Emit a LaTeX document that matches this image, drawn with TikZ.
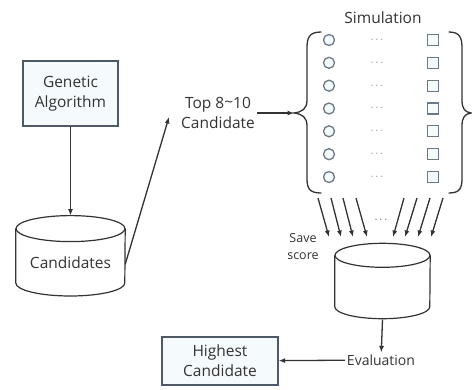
\documentclass[tikz,border=0pt]{standalone}
\usepackage{fontspec}
\setmainfont{Open Sans}
\usepackage{tikz}
\usetikzlibrary{arrows.meta}
\usetikzlibrary{positioning}
\definecolor{boxedge}{HTML}{4E5A66}
\definecolor{boxfill}{HTML}{F5FAFD}
\definecolor{inkgray}{HTML}{333333}
\definecolor{simedge}{HTML}{6C7884}
\tikzset{>={Latex[length=6.5pt,width=5pt]}}
\tikzset{flow-line/.style={line width=1.3pt, draw=inkgray}}
\tikzset{flow-text/.style={text=inkgray, align=center, inner sep=2pt, font=\fontsize{15.5}{20}\selectfont}}
\tikzset{flow-box/.style={flow-text, draw=boxedge, line width=1.2pt, fill=boxfill, minimum width=95pt, minimum height=65pt, inner sep=0}}
\tikzset{flow-db/.style={flow-text, inner sep=0}}
\tikzset{db-line/.style={line width=1.2pt, draw=inkgray}}
\tikzset{sim-circle/.style={draw=simedge, line width=1.3pt, fill=boxfill, circle, minimum size=11pt, inner sep=0}}
\tikzset{sim-square/.style={draw=simedge, line width=1.3pt, fill=boxfill, minimum size=11pt, inner sep=0}}
\tikzset{sim-dots/.style={text=simedge, font=\fontsize{11}{11}\selectfont, inner sep=0}}
\tikzset{sim-brace/.style={line width=1.3pt, draw=inkgray, line cap=round}}

\begin{document}
\begin{tikzpicture}[x=1pt, y=-1pt]
            \useasboundingbox (0,0) rectangle (472,389);

            \node[flow-box] (ga) at (70.5,93.5) {Genetic\\Algorithm};

            % candidate store, body below the top ellipse
            \node[flow-db, minimum width=109pt, minimum height=67pt, below=102pt of ga] (cand) {Candidates};
            \draw[db-line] (cand.north west) -- ([yshift=13pt]cand.south west)
                arc[start angle=180, end angle=360, x radius=54.5pt, y radius=13pt] -- (cand.north east);
            \draw[db-line] (cand.north) ellipse[x radius=54.5pt, y radius=13pt];

            \node[flow-text] (top) at (218,113) {Top 8\raisebox{0.15ex}{\textasciitilde}10\\Candidate};
            \node[flow-text] (sim) at (383,18) {Simulation};

            % rows of the simulation
            \foreach \y [count=\i] in {40,62.8,85.7,108.5,131.3,154.2,177} {
                \node[sim-circle] (run\i) at (329,\y) {};
                \node[sim-dots] (dot\i) at (377,\y) {$\cdots$};
                \node[sim-square] (res\i) at (433,\y) {};
            }

            % braces
            \coordinate (lbrace) at (294,113);
            \draw[sim-brace] (321,32) .. controls (309,32) and (307,38) .. (307,48) -- (307,100)
                .. controls (307,109) and (302,112) .. (lbrace)
                .. controls (302,114) and (307,117) .. (307,126) -- (307,178)
                .. controls (307,188) and (309,193) .. (321,193);
            \draw[sim-brace] (449,32) .. controls (460,32) and (462,38) .. (462,48) -- (462,100)
                .. controls (462,109) and (465,112) .. (471,113)
                .. controls (465,114) and (462,117) .. (462,126) -- (462,178)
                .. controls (462,188) and (460,193) .. (449,193);

            % score store
            \node[flow-db, minimum width=95pt, minimum height=63pt] (db) at (382.5,287) {};
            \draw[db-line] (db.north west) -- ([yshift=12pt]db.south west)
                arc[start angle=180, end angle=360, x radius=47.5pt, y radius=12pt] -- (db.north east);
            \draw[db-line] (db.north) ellipse[x radius=47.5pt, y radius=12pt];

            \node[flow-text, font=\fontsize{12.5}{17}\selectfont] (save) at (303,247) {Save\\score};
            \node[flow-text, font=\fontsize{14}{18}\selectfont] (eval) at (381,360) {Evaluation};
            \node[flow-box, minimum width=116pt, minimum height=48pt] (best) at (220,361) {Highest\\Candidate};

            \draw[->, flow-line] (ga) -- ([yshift=13pt]cand.north);
            \draw[->, flow-line] ([yshift=-2pt]cand.east) -- ([xshift=-10pt,yshift=-4pt]top.west);
            \draw[->, flow-line] (top.east) -- (lbrace);

            % scores into the store
            \foreach \sx/\ex [count=\i] in {318/329, 331/341, 343/353, 356/367, 404/393, 417/405, 430/418, 443/431} {
                \coordinate (s\i) at (\sx,198);
                \coordinate (e\i) at (\ex,237);
                \draw[->, flow-line] (s\i) -- (e\i);
            }
            \node[sim-dots, text=inkgray] (gap) at (381,220) {$\cdots$};

            \draw[->, flow-line] ([yshift=-1pt]db.south) -- (eval);
            \draw[->, flow-line] (eval) -- (best);

        \end{tikzpicture}
\end{document}
